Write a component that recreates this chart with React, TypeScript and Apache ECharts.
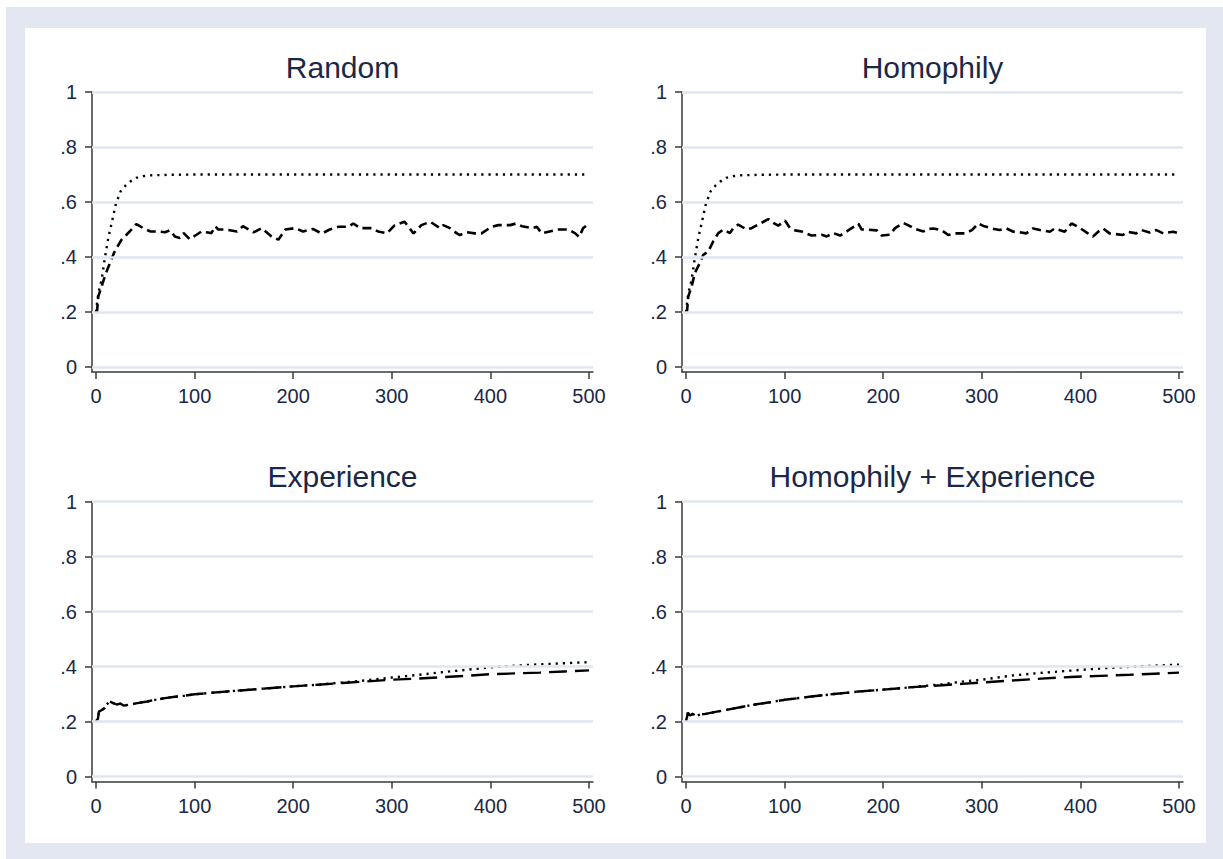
import React, { useEffect, useRef } from "react";
import * as echarts from "echarts";

// ---------- data ----------
const panelTitles = ["Random", "Homophily", "Experience", "Homophily + Experience"];

const xTickValues = [0, 100, 200, 300, 400, 500];
const xTickLabels = ["0", "100", "200", "300", "400", "500"];
const yTickValues = [0, 0.2, 0.4, 0.6, 0.8, 1];
const yTickLabels = ["0", ".2", ".4", ".6", ".8", "1"];

// Top panels: dotted series (same shape in both)
const topDotX = [0, 2.4, 5.8, 9, 12.5, 16, 20, 25, 30, 35, 41, 48, 55, 75, 100, 200, 300, 400, 500];
const topDotY = [0.2, 0.269, 0.318, 0.396, 0.469, 0.524, 0.59, 0.639, 0.66, 0.675, 0.688, 0.694, 0.697, 0.699, 0.7, 0.7, 0.7, 0.7, 0.7];

// Random: dashed series
const randDashX = [0, 1, 2.4, 5.8, 9, 11.5, 14.9, 18.3, 21, 26, 31, 36, 41, 48, 55, 62, 70, 75, 80, 85, 89, 95, 102, 107, 112, 117, 121, 124, 132, 143, 149, 155, 160, 168, 173, 178, 185, 192, 202, 210, 220, 229, 237, 246, 256, 261, 268, 280, 286, 295, 303, 313, 322, 330, 339, 349, 352, 359, 366, 369, 376, 384, 391, 401, 408, 420, 426, 432, 442, 447, 452, 460, 469, 479, 486, 490, 494, 498, 500];
const randDashY = [0.2, 0.2, 0.257, 0.293, 0.33, 0.354, 0.384, 0.415, 0.433, 0.463, 0.481, 0.5, 0.52, 0.505, 0.493, 0.493, 0.49, 0.497, 0.475, 0.469, 0.487, 0.465, 0.481, 0.493, 0.49, 0.487, 0.512, 0.5, 0.5, 0.493, 0.512, 0.5, 0.49, 0.505, 0.49, 0.475, 0.463, 0.5, 0.505, 0.493, 0.502, 0.485, 0.5, 0.51, 0.51, 0.522, 0.505, 0.505, 0.493, 0.486, 0.516, 0.528, 0.486, 0.516, 0.528, 0.505, 0.516, 0.505, 0.486, 0.48, 0.49, 0.486, 0.486, 0.51, 0.516, 0.516, 0.522, 0.512, 0.505, 0.51, 0.486, 0.493, 0.5, 0.5, 0.486, 0.473, 0.505, 0.516, 0.516];

// Homophily: dashed series
const homDashX = [0, 1, 2.4, 5.8, 9, 14, 17.6, 22.6, 27.7, 32.8, 37.9, 44.6, 48, 53, 61.5, 66.6, 73.4, 83.5, 88.6, 93.6, 100.4, 105.5, 110.6, 117.4, 122.5, 127.5, 137.7, 142.7, 149.5, 156.3, 163, 168, 174.8, 178.2, 183.2, 193.4, 198.5, 207, 212, 220.5, 227.3, 232.4, 240.8, 246, 251, 259, 266, 273, 283, 290, 296.5, 301.5, 310, 318, 325, 332, 340, 345, 352, 359, 369, 374, 384, 391, 397.5, 407.6, 412.7, 418, 423, 429.5, 443, 448, 456.6, 462, 470, 477, 484, 494, 500];
const homDashY = [0.2, 0.2, 0.257, 0.293, 0.342, 0.378, 0.408, 0.42, 0.457, 0.487, 0.5, 0.487, 0.505, 0.518, 0.5, 0.505, 0.518, 0.538, 0.524, 0.514, 0.533, 0.505, 0.497, 0.493, 0.485, 0.478, 0.481, 0.475, 0.487, 0.478, 0.493, 0.505, 0.521, 0.5, 0.5, 0.497, 0.478, 0.481, 0.505, 0.524, 0.512, 0.502, 0.493, 0.502, 0.504, 0.498, 0.48, 0.486, 0.486, 0.498, 0.522, 0.513, 0.504, 0.498, 0.504, 0.492, 0.489, 0.486, 0.504, 0.498, 0.492, 0.504, 0.492, 0.522, 0.51, 0.486, 0.474, 0.492, 0.504, 0.486, 0.48, 0.492, 0.486, 0.498, 0.489, 0.498, 0.486, 0.492, 0.486];

// Experience
const expX = [0, 2, 3, 6, 9, 11, 14, 17, 21, 25, 28, 35, 42, 52, 60, 70, 80, 90, 100, 125, 150, 175, 200, 225, 250, 275, 300, 325, 350, 375, 400, 425, 450, 475, 500];
const expDashY = [0.2, 0.21, 0.236, 0.242, 0.25, 0.262, 0.273, 0.268, 0.262, 0.265, 0.258, 0.262, 0.267, 0.273, 0.279, 0.285, 0.29, 0.294, 0.299, 0.307, 0.314, 0.321, 0.328, 0.334, 0.34, 0.346, 0.352, 0.356, 0.361, 0.366, 0.372, 0.375, 0.378, 0.382, 0.386];
const expDotY = [0.2, 0.21, 0.236, 0.242, 0.25, 0.262, 0.273, 0.268, 0.262, 0.265, 0.258, 0.262, 0.267, 0.273, 0.279, 0.285, 0.29, 0.294, 0.299, 0.307, 0.314, 0.321, 0.328, 0.334, 0.342, 0.35, 0.36, 0.369, 0.379, 0.388, 0.397, 0.403, 0.408, 0.412, 0.416];

// Homophily + Experience
const hexX = [0, 2, 4, 7, 10, 15, 20, 30, 40, 55, 70, 85, 100, 125, 150, 175, 200, 230, 260, 280, 300, 330, 360, 390, 420, 450, 475, 500];
const hexDashY = [0.2, 0.232, 0.222, 0.228, 0.22, 0.226, 0.228, 0.235, 0.242, 0.252, 0.262, 0.27, 0.279, 0.29, 0.3, 0.309, 0.316, 0.325, 0.332, 0.337, 0.342, 0.349, 0.356, 0.362, 0.366, 0.37, 0.374, 0.378];
const hexDotY = [0.2, 0.232, 0.222, 0.228, 0.22, 0.226, 0.228, 0.235, 0.242, 0.252, 0.262, 0.27, 0.279, 0.29, 0.3, 0.309, 0.316, 0.325, 0.336, 0.345, 0.352, 0.367, 0.377, 0.385, 0.393, 0.399, 0.403, 0.407];

const zip = (xs: number[], ys: number[]) => {
  const n = Math.min(xs.length, ys.length);
  const out: number[][] = [];
  for (let i = 0; i < n; i++) out.push([xs[i], ys[i]]);
  return out;
};

const panelData = [
  { dot: zip(topDotX, topDotY), dash: zip(randDashX, randDashY), longDash: false },
  { dot: zip(topDotX, topDotY), dash: zip(homDashX, homDashY), longDash: false },
  { dot: zip(expX, expDotY), dash: zip(expX, expDashY), longDash: true },
  { dot: zip(hexX, hexDotY), dash: zip(hexX, hexDashY), longDash: true },
];

// ---------- layout / style ----------
const FONT = "'Liberation Sans', Arial, sans-serif";
const TEXT = "#1a2848";
const AXIS = "#3a3a3a";
const GRIDC = "#e0e6f0";
const gridBoxes = [
  { left: 92, top: 92 },
  { left: 682, top: 92 },
  { left: 92, top: 501.5 },
  { left: 682, top: 501.5 },
];
const GW = 501;
const GH = 280;

export default function App() {
  const ref = useRef<HTMLDivElement>(null);
  useEffect(() => {
    if (!ref.current) return;
    const chart = echarts.init(ref.current, null, { renderer: "svg" });

    const yFmt = (v: number) => {
      const i = yTickValues.findIndex((t) => Math.abs(t - v) < 1e-6);
      return i >= 0 ? yTickLabels[i] : "";
    };
    const xFmt = (v: number) => {
      const i = xTickValues.findIndex((t) => Math.abs(t - v) < 1e-6);
      return i >= 0 ? xTickLabels[i] : "";
    };

    const axisLine = { show: true, onZero: false, lineStyle: { color: AXIS, width: 1.5 } };
    const tickStyle = { color: AXIS, width: 1.5 };
    const labelBase = { fontSize: 20, fontFamily: FONT, color: TEXT };

    const grid = gridBoxes.map((g) => ({ left: g.left, top: g.top, width: GW, height: GH, containLabel: false }));
    const xAxis = gridBoxes.map((_, i) => ({
      gridIndex: i,
      type: "value",
      min: -4,
      max: 504,
      axisLine,
      axisTick: { show: true, length: 7, customValues: xTickValues, lineStyle: tickStyle },
      axisLabel: { ...labelBase, margin: 14, customValues: xTickValues, formatter: xFmt },
      splitLine: { show: false },
    }));
    const yAxis = gridBoxes.map((_, i) => ({
      gridIndex: i,
      type: "value",
      min: -0.018,
      max: 1,
      axisLine,
      axisTick: { show: true, length: 7, customValues: yTickValues, lineStyle: tickStyle },
      axisLabel: { ...labelBase, margin: 15, customValues: yTickValues, formatter: yFmt },
      splitLine: { show: false },
    }));

    const series: any[] = [];
    panelData.forEach((p, i) => {
      series.push({
        type: "line",
        xAxisIndex: i,
        yAxisIndex: i,
        data: [],
        z: 1,
        silent: true,
        markLine: {
          silent: true,
          symbol: ["none", "none"],
          label: { show: false },
          lineStyle: { color: GRIDC, width: 2.5, type: "solid" },
          emphasis: { disabled: true },
          data: yTickValues.map((v) => ({ yAxis: v })),
        },
      });
      series.push({
        type: "line",
        xAxisIndex: i,
        yAxisIndex: i,
        data: p.dot,
        showSymbol: false,
        symbol: "none",
        silent: true,
        z: 3,
        lineStyle: { color: "#000", width: 2.4, type: [2.2, 5], cap: "butt" },
      });
      series.push({
        type: "line",
        xAxisIndex: i,
        yAxisIndex: i,
        data: p.dash,
        showSymbol: false,
        symbol: "none",
        silent: true,
        z: 4,
        lineStyle: p.longDash
          ? { color: "#000", width: 2.4, type: [18, 8], cap: "butt" }
          : { color: "#000", width: 2.6, type: [9, 5], cap: "butt" },
      });
    });

    const titleCenters = [
      { x: 342.5, y: 67 },
      { x: 932.5, y: 67 },
      { x: 342.5, y: 476 },
      { x: 932.5, y: 476 },
    ];

    chart.setOption({
      animation: false,
      backgroundColor: "#ffffff",
      graphic: [
        { type: "rect", z: -10, silent: true, shape: { x: 6, y: 7, width: 1217, height: 852 }, style: { fill: "#e2e7f1" } },
        { type: "rect", z: -9, silent: true, shape: { x: 25, y: 28, width: 1181, height: 815 }, style: { fill: "#ffffff" } },
        ...titleCenters.map((c, i) => ({
          type: "text",
          z: 10,
          silent: true,
          x: c.x,
          y: c.y,
          style: {
            text: panelTitles[i],
            font: `30px ${FONT}`,
            fill: TEXT,
            textAlign: "center",
            textVerticalAlign: "middle",
          },
        })),
      ],
      grid,
      xAxis,
      yAxis,
      series,
    });
    return () => chart.dispose();
  }, []);

  return (
    <div
      ref={ref}
      style={{ position: "fixed", left: 0, top: 0, width: 1223, height: 859 }}
    />
  );
}
